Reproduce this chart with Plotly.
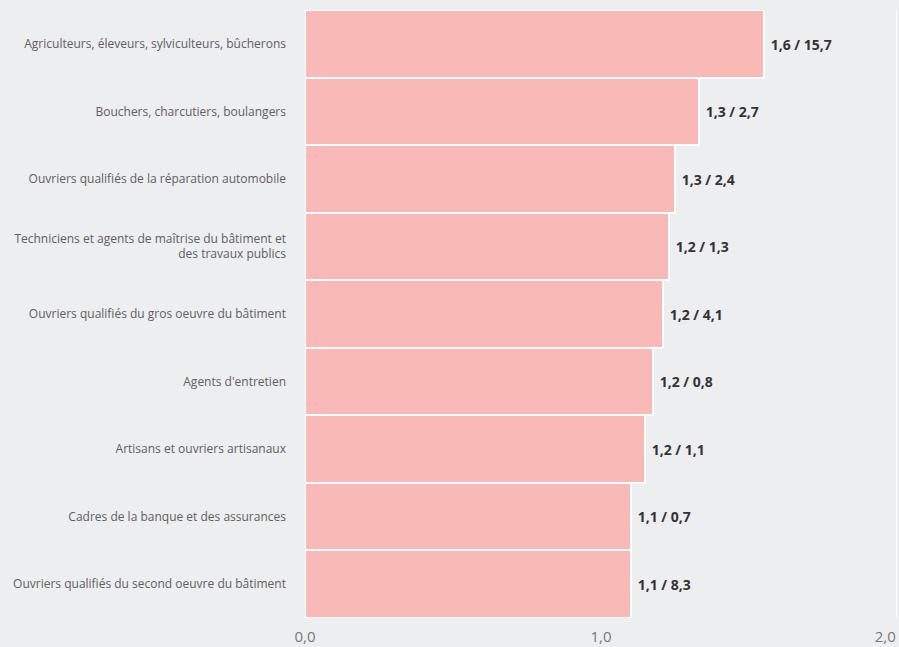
import plotly.graph_objects as go

categories = [
    "Agriculteurs, éleveurs, sylviculteurs, bûcherons",
    "Bouchers, charcutiers, boulangers",
    "Ouvriers qualifiés de la réparation automobile",
    "Techniciens et agents de maîtrise du bâtiment et<br>des travaux publics",
    "Ouvriers qualifiés du gros oeuvre du bâtiment",
    "Agents d'entretien",
    "Artisans et ouvriers artisanaux",
    "Cadres de la banque et des assurances",
    "Ouvriers qualifiés du second oeuvre du bâtiment",
]
ratio_values = [1.55, 1.33, 1.25, 1.23, 1.21, 1.175, 1.15, 1.10, 1.10]
ratio_labels = ["1,6", "1,3", "1,3", "1,2", "1,2", "1,2", "1,2", "1,1", "1,1"]
share_labels = ["15,7", "2,7", "2,4", "1,3", "4,1", "0,8", "1,1", "0,7", "8,3"]
tick_values = [0, 1, 2]
tick_labels = ["0,0", "1,0", "2,0\u00a0\u00a0\u00a0\u00a0\u00a0\u00a0"]

texts = [f"\u00a0<b>{r} / {s}</b>" for r, s in zip(ratio_labels, share_labels)]

BG = "#edeef0"

fig = go.Figure(
    go.Bar(
        y=categories,
        x=ratio_values,
        orientation="h",
        marker=dict(color="#f9b9b7", line=dict(color="white", width=2)),
        text=texts,
        textposition="outside",
        textfont=dict(family="Open Sans", size=14, color="#333333"),
        cliponaxis=False,
        width=1.0,
    )
)

fig.update_layout(
    width=899,
    height=647,
    margin=dict(l=305, r=0, t=10, b=29, autoexpand=False),
    paper_bgcolor=BG,
    plot_bgcolor=BG,
    bargap=0,
    showlegend=False,
    font=dict(family="Open Sans", color="#555555"),
    xaxis=dict(
        range=[0, 2.007],
        tickvals=tick_values,
        ticktext=tick_labels,
        showgrid=True,
        gridcolor="white",
        gridwidth=1,
        zeroline=True,
        zerolinecolor="#d5dcf0",
        zerolinewidth=1,
        tickfont=dict(size=15, color="#777777"),
        ticklabelstandoff=8,
        ticklabeloverflow="allow",
        automargin=False,
        fixedrange=True,
    ),
    yaxis=dict(
        categoryorder="array",
        categoryarray=categories[::-1],
        autorange=True,
        showgrid=False,
        tickfont=dict(size=12, color="#606060"),
        ticklabelstandoff=18,
        automargin=False,
        fixedrange=True,
    ),
)

fig.write_html(
    "out.html",
    config={"displayModeBar": False},
    post_script="document.body.style.margin='0';document.body.style.overflow='hidden';document.body.style.background='%s';" % BG,
)
